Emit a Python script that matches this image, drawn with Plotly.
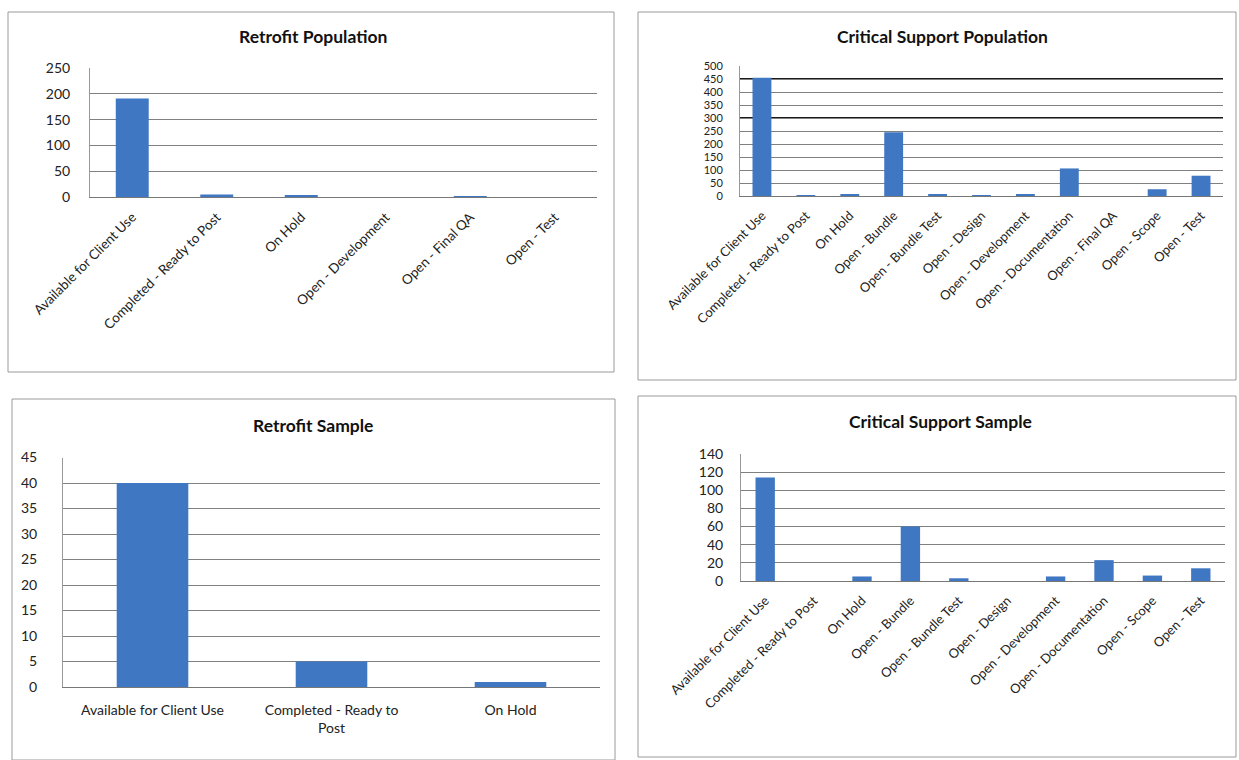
import plotly.graph_objects as go

W, H = 1239, 760

# ---- data ----
retro_pop_cats = ["Available for Client Use", "Completed - Ready to Post", "On Hold",
                  "Open - Development", "Open - Final QA", "Open - Test"]
retro_pop_vals = [191, 5, 4, 0, 1, 0]

crit_pop_cats = ["Available for Client Use", "Completed - Ready to Post", "On Hold",
                 "Open - Bundle", "Open - Bundle Test", "Open - Design", "Open - Development",
                 "Open - Documentation", "Open - Final QA", "Open - Scope", "Open - Test"]
crit_pop_vals = [455, 3, 5, 245, 5, 3, 6, 106, 0, 26, 78]

retro_sample_cats = ["Available for Client Use", "Completed - Ready to<br>Post", "On Hold"]
retro_sample_vals = [40, 5, 1]

crit_sample_cats = ["Available for Client Use", "Completed - Ready to Post", "On Hold",
                    "Open - Bundle", "Open - Bundle Test", "Open - Design", "Open - Development",
                    "Open - Documentation", "Open - Scope", "Open - Test"]
crit_sample_vals = [114, 0, 5, 60, 3, 0, 5, 23, 6, 14]

titles = ["Retrofit Population", "Critical Support Population",
          "Retrofit Sample", "Critical Support Sample"]

BAR = "#4077C2"
FONT = "Lato"


def px_x(x):
    return x / W


def px_y(y):
    return 1 - y / H


fig = go.Figure()

panels = [
    # cats, vals, xpx, ypx(top,bottom), yrange, dtick, tickangle, xfont, yfont, ystandoff, width
    (retro_pop_cats, retro_pop_vals, (90, 597), (68, 197), 250, 50, -45, 13.5, 14, 16, 0.39),
    (crit_pop_cats, crit_pop_vals, (740, 1223), (66, 196), 500, 50, -45, 13, 11, 14, 0.43),
    (retro_sample_cats, retro_sample_vals, (63, 600), (457.5, 687), 45, 5, 0, 14, 14, 22, 0.40),
    (crit_sample_cats, crit_sample_vals, (741, 1225), (454, 581), 140, 20, -45, 13, 14, 14, 0.40),
]

for i, (cats, vals, xp, yp, ymax, dt, ang, xfs, yfs, ystand, bw) in enumerate(panels, start=1):
    sfx = "" if i == 1 else str(i)
    fig.add_trace(go.Bar(x=cats, y=vals, marker_color=BAR, marker_line_width=0,
                         width=bw, xaxis="x" + sfx, yaxis="y" + sfx, showlegend=False))
    fig.layout["xaxis" + sfx] = dict(
        domain=[px_x(xp[0]), px_x(xp[1])], anchor="y" + sfx, type="category",
        tickangle=ang, tickfont=dict(family=FONT, size=xfs, color="#222"),
        showline=True, linecolor="#777", linewidth=1, showgrid=False,
        ticks="", automargin=False, ticklabelstandoff=6 if ang else 10,
        fixedrange=True)
    fig.layout["yaxis" + sfx] = dict(
        domain=[px_y(yp[1]), px_y(yp[0])], anchor="x" + sfx, range=[0, ymax], dtick=dt,
        tickfont=dict(family=FONT, size=yfs, color="#222"),
        showline=True, linecolor="#999", linewidth=1,
        showgrid=True, gridcolor="#808080", gridwidth=1, zeroline=False,
        ticks="", automargin=False, ticklabelstandoff=ystand, fixedrange=True)

# titles
title_pos = [(313, 37), (942, 36), (313, 425), (940, 422)]
for t, (x, y) in zip(titles, title_pos):
    fig.add_annotation(text="<b>%s</b>" % t, x=px_x(x), y=px_y(y), xref="paper", yref="paper",
                       showarrow=False, font=dict(family=FONT, size=17.5, color="#111"),
                       xanchor="center", yanchor="middle")

# panel frames
frames = [(8, 12, 614, 372), (638, 12, 1236, 380), (12, 399, 615, 760), (638, 396, 1236, 757)]
for (x0, y0, x1, y1) in frames:
    fig.add_shape(type="rect", xref="paper", yref="paper",
                  x0=px_x(x0), x1=px_x(x1), y0=px_y(y1), y1=px_y(y0),
                  line=dict(color="#9a9a9a", width=1), fillcolor="rgba(0,0,0,0)", layer="below")

# darker scan lines in the Critical Support Population grid
for yv in [300, 450]:
    fig.add_shape(type="line", xref="x2 domain", yref="y2", x0=0, x1=1, y0=yv, y1=yv,
                  line=dict(color="#1a1a1a", width=2), layer="below")

fig.update_layout(width=W, height=H, autosize=False,
                  margin=dict(l=0, r=0, t=0, b=0, autoexpand=False),
                  paper_bgcolor="white", plot_bgcolor="white",
                  font=dict(family=FONT, color="#222"))

fig.write_html("out.html")
